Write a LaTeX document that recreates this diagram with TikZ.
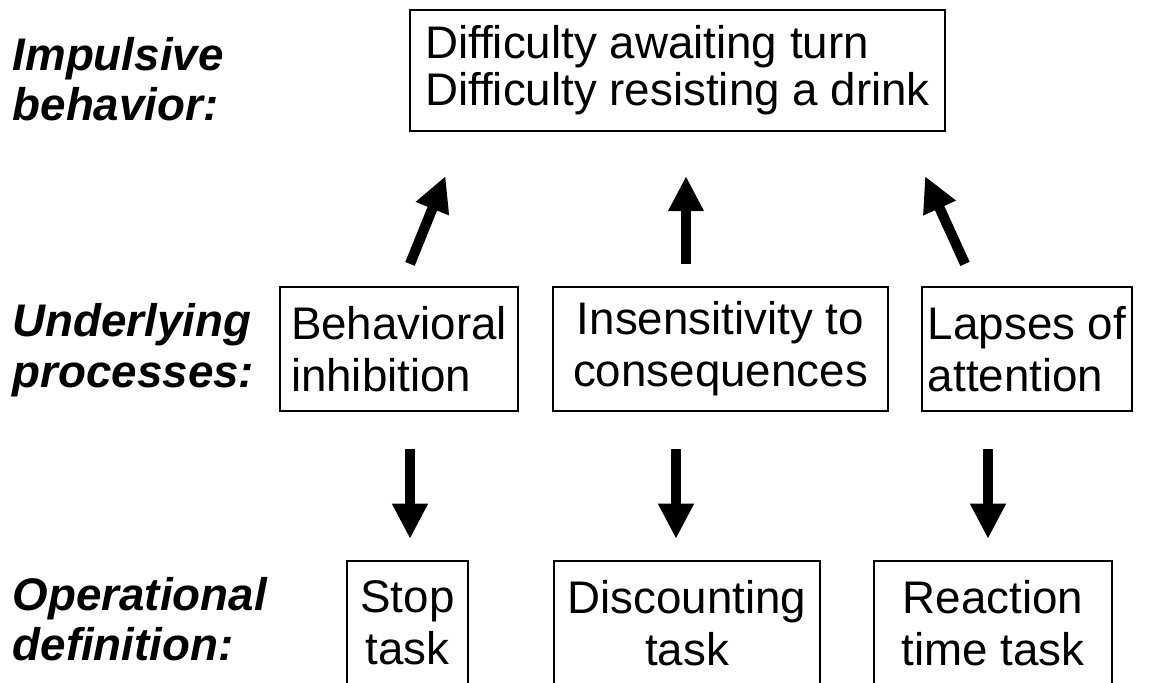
\documentclass[tikz,border=0pt]{standalone}
\usepackage{fontspec}
\setmainfont{Liberation Sans}
\usepackage{tikz}
\usetikzlibrary{arrows.meta,calc}

\begin{document}
\begin{tikzpicture}[x=0.01cm, y=-0.01cm,
      every node/.append style={font=\fontsize{13}{14.8}\selectfont, inner sep=0pt},
      box/.style={draw, line width=0.6pt, align=center},
      level/.style={anchor=west, align=left, font=\fontsize{13}{14.4}\selectfont\bfseries\itshape},
      link/.style={line width=2.9pt, -{Triangle[length=10pt, width=9.5pt]}}]
    \useasboundingbox (0,0) rectangle (1152,683);
    \clip (0,0) rectangle (1152,683);
    % levels
    \node (impulsive) [level] at (12,79) {Impulsive\\behavior:};
    \node (underlying) [level] at (12,350) {Underlying\\processes:};
    \node (operational) [level] at (12,619) {Operational\\definition:};
    % behavior
    \node (behavior) [box, align=left, minimum width=5.35cm, minimum height=1.21cm,
      font=\fontsize{13}{13.4}\selectfont] at (677.5,70.5)
      {Difficulty awaiting turn\\Difficulty resisting a drink};
    % processes
    \node (inhib) [box, align=left, minimum width=2.38cm, minimum height=1.24cm] at (399,349)
      {Behavioral\\inhibition};
    \node (insens) [box, minimum width=3.35cm, minimum height=1.24cm] at (720.5,349)
      {Insensitivity to\\consequences};
    \node (lapses) [box, align=left, minimum width=2.1cm, minimum height=1.24cm] at (1027,349)
      {Lapses of\\attention};
    % tasks
    \node (stop) [box, minimum width=1.21cm, minimum height=1.24cm] at (407.5,623) {Stop\\task};
    \node (discount) [box, minimum width=2.66cm, minimum height=1.24cm] at (687,623) {Discounting\\task};
    \node (reaction) [box, minimum width=2.38cm, minimum height=1.24cm] at (993,623) {Reaction\\time task};
    % arrows
    \draw[link] ($(inhib.north)+(11,-22)$) -- ($(behavior.south)+(-232,44)$);
    \draw[link] ($(insens.north)+(-34.5,-22)$) -- ($(behavior.south)+(8.5,44)$);
    \draw[link] ($(lapses.north)+(-62,-22)$) -- ($(behavior.south)+(247.5,44)$);
    \draw[link] ($(inhib.south)+(11,37)$) -- ($(stop.north)+(2.5,-21)$);
    \draw[link] ($(insens.south)+(-44.5,37)$) -- ($(discount.north)+(-11,-21)$);
    \draw[link] ($(lapses.south)+(-39,37)$) -- ($(reaction.north)+(-5,-21)$);
  \end{tikzpicture}
\end{document}
